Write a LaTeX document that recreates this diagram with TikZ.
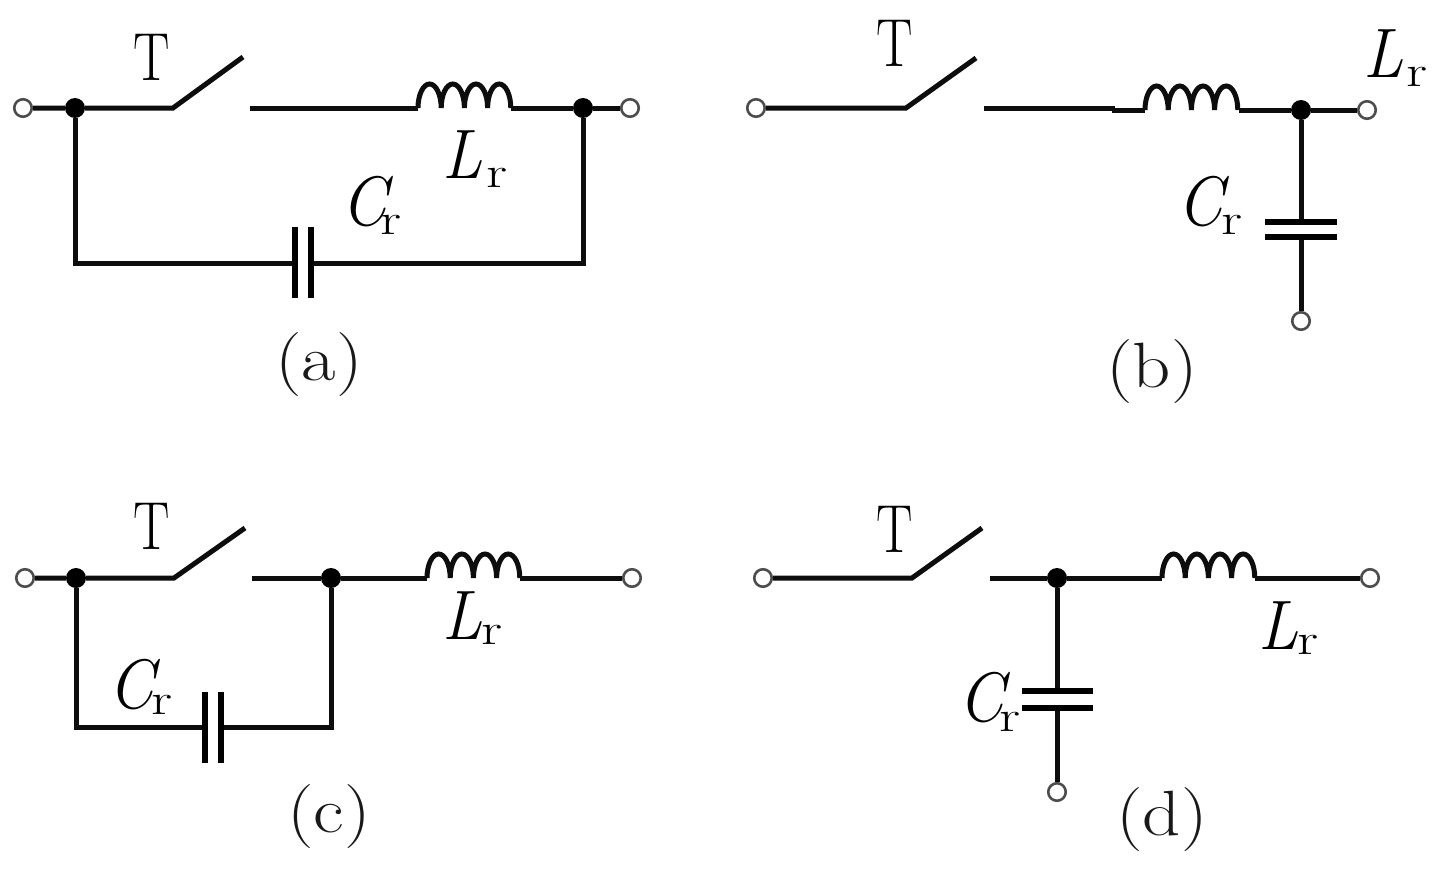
\documentclass[tikz,border=0pt]{standalone}
\begin{document}
\begin{tikzpicture}[x=1pt,y=-1pt,
 term/.style={circle,draw=black!70,line width=2.6pt,fill=white,minimum size=17.5pt,inner sep=0pt},
 dotn/.style={circle,fill=black,minimum size=20pt,inner sep=0pt},
 tlab/.style={font=\fontsize{68}{68}\selectfont,inner sep=0pt,text=black,xscale=.8,transform shape},
 lab/.style={font=\fontsize{64}{64}\selectfont,inner sep=0pt,text=black!90,xscale=1.17,transform shape},
 sym/.style={font=\fontsize{70}{70}\selectfont\itshape,inner sep=0pt,text=black,xscale=.93,transform shape},
 sub/.style={font=\fontsize{44}{44}\selectfont,inner sep=0pt,text=black,xscale=1.35,transform shape},
 wire/.style={line width=5pt,black!95,line join=miter},
 plate/.style={line width=6pt,black}]
\useasboundingbox (0,0) rectangle (1446,875);
\newcommand{\coil}[2]{%
 \draw[wire] (#1,#2) arc[start angle=180,end angle=360,x radius=11.6,y radius=24]
  arc[start angle=180,end angle=360,x radius=11.6,y radius=24]
  arc[start angle=180,end angle=360,x radius=11.6,y radius=24]
  arc[start angle=180,end angle=360,x radius=11.6,y radius=24];}
% (a)
\node[term] (a1) at (23,108) {};
\node[dotn] (a2) at (75,108) {};
\coordinate (a3) at (173,108);
\coordinate (a4) at (243,57);
\coordinate (a5) at (250,108);
\coordinate (a6) at (418,108);
\coordinate (a7) at (511,108);
\node[dotn] (a8) at (583,108) {};
\node[term] (a9) at (630,108) {};
\coordinate (a10) at (75,263);
\coordinate (a11) at (583,263);
\coordinate (a12) at (295,263);
\coordinate (a13) at (311,263);
\draw[wire] (a1) -- (a2) -- (a3) -- (a4);
\draw[wire] (a5) -- (a6);
\coil{418}{108}
\draw[wire] (a7) -- (a8) -- (a9);
\draw[wire] (a2) -- (a10) -- (a12);
\draw[wire] (a8) -- (a11) -- (a13);
\draw[plate] (295,227) -- (295,298);
\draw[plate] (311,227) -- (311,298);
\node[tlab] (at) at (152,57) {T};
\node[sym] (al) at (462,155) {L};
\node[sub] (als) at (497,178) {r};
\node[sym] (ac) at (364,202) {C};
\node[sub] (acs) at (391,225) {r};
\node[lab] (an) at (319,365) {(a)};
% (b)
\node[term] (b1) at (756,108) {};
\coordinate (b3) at (906,108);
\coordinate (b4) at (976,58);
\coordinate (b5) at (984,108);
\coordinate (b6) at (1145,110);
\coordinate (b7) at (1239,110);
\node[dotn] (b8) at (1301,110) {};
\node[term] (b9) at (1367,110) {};
\node[term] (b10) at (1301,321) {};
\draw[wire] (b1) -- (b3) -- (b4);
\draw[wire] (b5) -- (1115,108);
\draw[wire] (1112,110) -- (b6);
\coil{1145}{110}
\draw[wire] (b7) -- (b8) -- (b9);
\draw[wire] (b8) -- (1301,222);
\draw[wire] (b10) -- (1301,237);
\draw[plate] (1265,222) -- (1337,222);
\draw[plate] (1265,237) -- (1337,237);
\node[tlab] (bt) at (895,43) {T};
\node[sym] (bl) at (1383,54) {L};
\node[sub] (bls) at (1417,77) {r};
\node[sym] (bc) at (1200,202) {C};
\node[sub] (bcs) at (1232,225) {r};
\node[lab] (bn) at (1152,372) {(b)};
% (c)
\node[term] (c1) at (25,578) {};
\node[dotn] (c2) at (76,578) {};
\coordinate (c3) at (174,578);
\coordinate (c4) at (245,528);
\coordinate (c5) at (252,578);
\node[dotn] (c6) at (331,578) {};
\coordinate (c7) at (427,578);
\coordinate (c8) at (520,578);
\node[term] (c9) at (632,578) {};
\draw[wire] (c1) -- (c2) -- (c3) -- (c4);
\draw[wire] (c5) -- (c6) -- (c7);
\coil{427}{578}
\draw[wire] (c8) -- (c9);
\draw[wire] (c2) -- (76,727) -- (205,727);
\draw[wire] (c6) -- (331,727) -- (221,727);
\draw[plate] (205,692) -- (205,763);
\draw[plate] (221,692) -- (221,763);
\node[tlab] (ct) at (152,526) {T};
\node[sym] (cl) at (462,616) {L};
\node[sub] (cls) at (492,635) {r};
\node[sym] (cc) at (131,685) {C};
\node[sub] (ccs) at (162,705) {r};
\node[lab] (cn) at (329,817) {(c)};
% (d)
\node[term] (d1) at (763,578) {};
\coordinate (d3) at (912,578);
\coordinate (d4) at (982,528);
\coordinate (d5) at (990,578);
\node[dotn] (d6) at (1057,578) {};
\coordinate (d7) at (1162,578);
\coordinate (d8) at (1255,578);
\node[term] (d9) at (1370,578) {};
\node[term] (d10) at (1057,792) {};
\draw[wire] (d1) -- (d3) -- (d4);
\draw[wire] (d5) -- (d6) -- (d7);
\coil{1162}{578}
\draw[wire] (d8) -- (d9);
\draw[wire] (d6) -- (1057,691);
\draw[wire] (d10) -- (1057,708);
\draw[plate] (1022,691) -- (1093,691);
\draw[plate] (1022,708) -- (1093,708);
\node[tlab] (dt) at (895,529) {T};
\node[sym] (dl) at (1278,626) {L};
\node[sub] (dls) at (1308,645) {r};
\node[sym] (dc) at (981,698) {C};
\node[sub] (dcs) at (1010,722) {r};
\node[lab] (dn) at (1162,820) {(d)};
\end{tikzpicture}
\end{document}
